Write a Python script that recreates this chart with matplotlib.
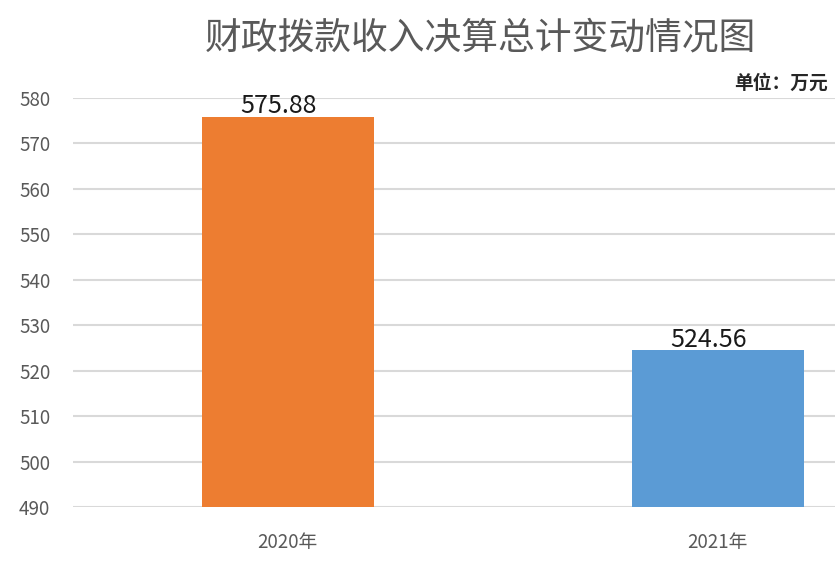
import matplotlib
matplotlib.use('Agg')
import matplotlib.pyplot as plt

plt.rcParams['font.family'] = ['Noto Sans CJK SC', 'DejaVu Sans']

# data
years = ['2020年', '2021年']
totals = [575.88, 524.56]
bar_colors = ['#ED7D31', '#5B9BD5']
y_ticks = list(range(490, 590, 10))

fig = plt.figure(figsize=(8.4, 5.72), dpi=100)
ax = fig.add_axes([72.5 / 840, 65 / 572, (835 - 72.5) / 840, 409 / 572])

x = list(range(len(years)))
ax.bar(x, [v - 490 for v in totals], bottom=490, width=0.4, color=bar_colors, zorder=3)

for xi, v in zip(x, totals):
    ax.text(xi - 0.02, v - 0.6, f'{v:.2f}', ha='center', va='bottom', fontsize=18,
            fontweight='medium', color='#1a1a1a', zorder=4)

ax.set_ylim(490, 580)
ax.set_xlim(-0.5, -0.5 + (835 - 72.5) / 430)
ax.set_yticks(y_ticks)
ax.set_xticks(x)
ax.set_xticklabels(years)
ax.tick_params(axis='both', length=0, colors='#595959', labelsize=13.5)
ax.tick_params(axis='x', pad=18)
ax.tick_params(axis='y', pad=16)
ax.grid(axis='y', color='#D9D9D9', linewidth=1.5, zorder=0)
for s in ax.spines.values():
    s.set_visible(False)

fig.text(480 / 840, 1 - 38 / 572, '财政拨款收入决算总计变动情况图', ha='center', va='center',
         fontsize=26.5, color='#595959')
fig.text(828 / 840, 1 - 83 / 572, '单位：万元', ha='right', va='center',
         fontsize=13.5, fontweight='bold', color='#262626')

fig.savefig('out.png', dpi=100, facecolor='white')
